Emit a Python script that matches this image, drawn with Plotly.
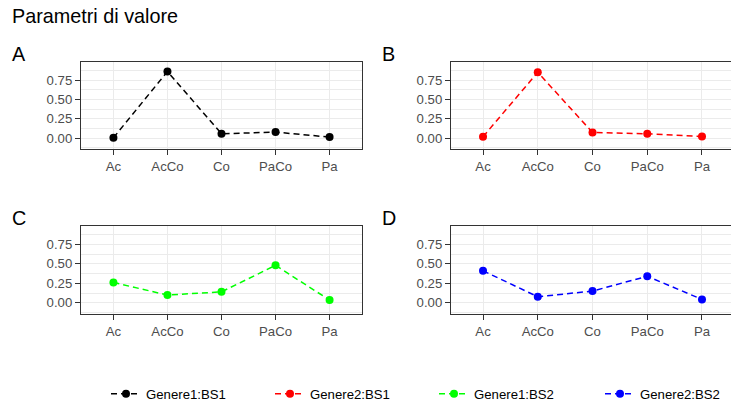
import plotly.graph_objects as go

W, H = 731, 410

categories = ["Ac", "AcCo", "Co", "PaCo", "Pa"]
series_names = ["Genere1:BS1", "Genere2:BS1", "Genere1:BS2", "Genere2:BS2"]
panel_tags = ["A", "B", "C", "D"]
values_A = [0.004, 0.86, 0.056, 0.077, 0.013]
values_B = [0.017, 0.85, 0.073, 0.056, 0.021]
values_C = [0.26, 0.099, 0.14, 0.48, 0.034]
values_D = [0.41, 0.077, 0.15, 0.34, 0.043]
series_values = [values_A, values_B, values_C, values_D]
colors = ["#000000", "#FF0000", "#00FF00", "#0000FF"]
y_ticks = [0.0, 0.25, 0.5, 0.75]
y_ticklabels = ["0.00", "0.25", "0.50", "0.75"]
title_text = "Parametri di valore"

FONT = "Liberation Sans, Arial, Helvetica, sans-serif"

def px_x(p):
    return p / W

def px_y(p):
    return 1 - p / H

# panel geometry in pixels (left, right, top, bottom)
panels = [
    (81, 362, 62.7, 150),
    (451, 731, 62.7, 150),
    (81, 362, 228, 316),
    (451, 731, 228, 316),
]
# x range per panel (category index); right panels are clipped at the image edge
x_ranges = [[-0.6, 4.6], [-0.585, 4.53], [-0.6, 4.6], [-0.585, 4.53]]
y_range = [-0.14, 0.98]
# legend entry left positions (px)
legend_x = [106, 270, 434, 600]

fig = go.Figure()
layout = {}
annotations = []
for i in range(4):
    l, r, t, b = panels[i]
    ax = "" if i == 0 else str(i + 1)
    lg = "legend" if i == 0 else "legend" + str(i + 1)
    fig.add_trace(go.Scatter(
        x=categories, y=series_values[i], name=series_names[i],
        mode="lines+markers",
        line=dict(color=colors[i], width=1.5, dash="6px,4px"),
        marker=dict(color=colors[i], size=8),
        xaxis="x" + ax, yaxis="y" + ax, legend=lg, showlegend=True,
    ))
    right_panel = i in (1, 3)
    layout["xaxis" + ax] = dict(
        domain=[px_x(l), px_x(r)], anchor="y" + ax,
        type="category", categoryorder="array", categoryarray=categories,
        range=x_ranges[i], showgrid=True, gridcolor="#EBEBEB", gridwidth=1.4,
        showline=True, linecolor="#333333", linewidth=1.2, mirror=True,
        ticks="outside", ticklen=5, tickcolor="#333333", tickwidth=1.2,
        tickfont=dict(family=FONT, size=13.2, color="#4D4D4D"),
        zeroline=False, fixedrange=True, automargin=False,
    )
    layout["yaxis" + ax] = dict(
        domain=[px_y(b), px_y(t)], anchor="x" + ax,
        range=y_range, tickmode="array", tickvals=y_ticks, ticktext=y_ticklabels,
        showgrid=True, gridcolor="#EBEBEB", gridwidth=1.4,
        minor=dict(tickmode="linear", tick0=0.125, dtick=0.25, showgrid=True,
                   gridcolor="#EBEBEB", gridwidth=0.8, ticklen=0),
        showline=True, linecolor="#333333", linewidth=1.2, mirror=not right_panel,
        ticks="outside", ticklen=5, tickcolor="#333333", tickwidth=1.2,
        tickfont=dict(family=FONT, size=13.2, color="#4D4D4D"),
        zeroline=False, fixedrange=True, automargin=False,
    )
    layout[lg] = dict(
        orientation="h", x=px_x(legend_x[i]), y=px_y(397), xanchor="left", yanchor="middle",
        font=dict(family=FONT, size=13.2, color="#000000"),
        bgcolor="rgba(0,0,0,0)", itemclick=False, itemdoubleclick=False,
    )
    annotations.append(dict(
        text=panel_tags[i], xref="paper", yref="paper",
        x=px_x(l - 71), y=px_y(t - 8), xanchor="left", yanchor="middle",
        showarrow=False, font=dict(family=FONT, size=19.8, color="#000000"),
    ))

annotations.append(dict(
    text=title_text, xref="paper", yref="paper",
    x=px_x(10), y=px_y(16.5), xanchor="left", yanchor="middle",
    showarrow=False, font=dict(family=FONT, size=19.8, color="#000000"),
))

fig.update_layout(
    **layout,
    annotations=annotations,
    width=W, height=H,
    margin=dict(l=0, r=0, t=0, b=0),
    paper_bgcolor="white", plot_bgcolor="white",
    showlegend=True,
)

fig.write_html("out.html", config={"displayModeBar": False},
               post_script="document.body.style.margin='0';document.body.style.overflow='hidden';")
